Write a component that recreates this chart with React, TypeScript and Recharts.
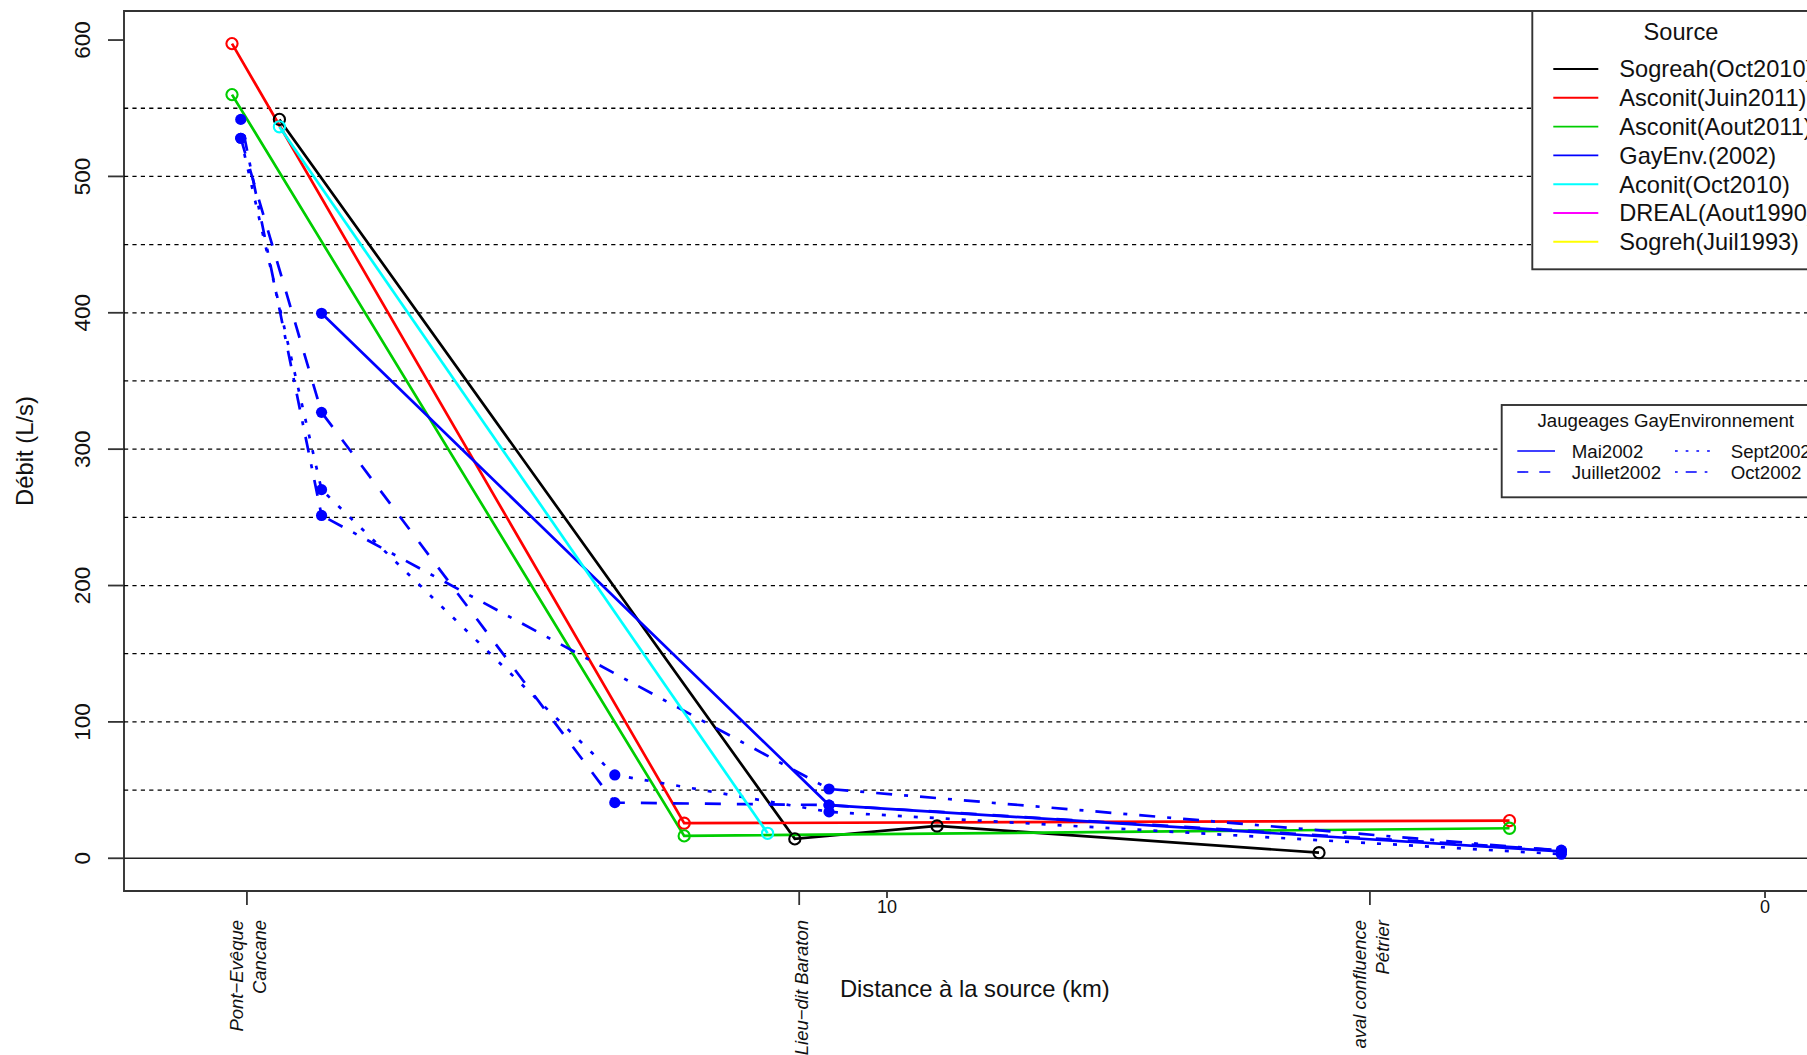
import React from 'react';
import { LineChart, Line, XAxis, YAxis, ReferenceLine, ReferenceArea, Legend, Label } from 'recharts';

// ---------------- data (distance to source in km, discharge in L/s) ----------------
const sogreahOct2010X = [16.92, 11.05, 9.43, 5.08];
const sogreahOct2010Y = [541.8, 14.2, 23.7, 4.1];

const asconitJuin2011X = [17.46, 12.31, 2.91];
const asconitJuin2011Y = [597.4, 25.7, 27.6];

const asconitAout2011X = [17.46, 12.31, 2.91];
const asconitAout2011Y = [560, 16.4, 22.0];

const aconitOct2010X = [16.92, 11.36];
const aconitOct2010Y = [536.4, 18.3];

const gayMai2002X = [16.44, 10.66, 2.32];
const gayMai2002Y = [399.6, 39, 5];

const gayJuillet2002X = [17.36, 16.44, 13.1, 10.66, 2.32];
const gayJuillet2002Y = [528, 327, 40.8, 39, 6];

const gaySept2002X = [17.36, 16.44, 13.1, 10.66, 2.32];
const gaySept2002Y = [528, 270.3, 61.1, 34, 3];

const gayOct2002X = [17.36, 16.44, 10.66, 2.32];
const gayOct2002Y = [541.8, 251.4, 50.8, 5.5];

// ---------------- ticks / labels ----------------
const yTicks = [0, 100, 200, 300, 400, 500, 600];
const gridValues = [50, 100, 150, 200, 250, 300, 350, 400, 450, 500, 550];
const kmTicks = [10, 0];
const stationKm = [17.29, 11.0, 4.5];
const stationLabels = [['Pont−Evêque', 'Cancane'], ['Lieu−dit Baraton'], ['aval confluence', 'Pétrier']];

const sourceLabels = ['Sogreah(Oct2010)', 'Asconit(Juin2011)', 'Asconit(Aout2011)', 'GayEnv.(2002)', 'Aconit(Oct2010)', 'DREAL(Aout1990)', 'Sogreh(Juil1993)'];
const sourceColors = ['#000000', '#FF0000', '#00CD00', '#0000FF', '#00FFFF', '#FF00FF', '#FFFF00'];
const gayLabels = ['Mai2002', 'Sept2002', 'Juillet2002', 'Oct2002'];
const gayLegendDash = ['', '2.7 8', '11 11', '2.7 8 11 8'];

const xTitle = 'Distance à la source (km)';
const yTitle = 'Débit (L/s)';

// ---------------- layout ----------------
const FONT = '"Liberation Sans", Arial, Helvetica, sans-serif';
const W = 1830;
const H = 1055;
const VIEW_W = 1807;
const X_DOMAIN: [number, number] = [-0.69, 18.69];
const Y_DOMAIN: [number, number] = [-24, 621.3];
const AXIS_COL = '#333333';
const TXT = '#111111';

const pts = (xs: number[], ys: number[]) => xs.map((x, i) => ({ x, v: ys[i] }));

const openDot = (c: string) => ({ r: 5.6, fill: 'none', stroke: c, strokeWidth: 2.1, strokeDasharray: '' });
const blueDot = { r: 5.6, fill: '#0000FF', stroke: 'none', strokeDasharray: '' };

const series = [
  { name: sourceLabels[0], data: pts(sogreahOct2010X, sogreahOct2010Y), color: sourceColors[0], dash: '', dot: openDot(sourceColors[0]) },
  { name: sourceLabels[1], data: pts(asconitJuin2011X, asconitJuin2011Y), color: sourceColors[1], dash: '', dot: openDot(sourceColors[1]) },
  { name: sourceLabels[2], data: pts(asconitAout2011X, asconitAout2011Y), color: sourceColors[2], dash: '', dot: openDot(sourceColors[2]) },
  { name: 'Mai2002', data: pts(gayMai2002X, gayMai2002Y), color: sourceColors[3], dash: '', dot: blueDot },
  { name: 'Juillet2002', data: pts(gayJuillet2002X, gayJuillet2002Y), color: sourceColors[3], dash: '16 16', dot: blueDot },
  { name: 'Sept2002', data: pts(gaySept2002X, gaySept2002Y), color: sourceColors[3], dash: '4 12', dot: blueDot },
  { name: 'Oct2002', data: pts(gayOct2002X, gayOct2002Y), color: sourceColors[3], dash: '4 12 16 12', dot: blueDot },
  { name: sourceLabels[4], data: pts(aconitOct2010X, aconitOct2010Y), color: sourceColors[4], dash: '', dot: openDot(sourceColors[4]) },
];

const XTick = (props: any) => {
  const { x, y, payload } = props;
  const v = payload.value;
  const si = stationKm.indexOf(v);
  if (si >= 0) {
    const lines = stationLabels[si];
    const offs = lines.length === 1 ? [2.5] : [-10, 12.5];
    return (
      <g>
        <line x1={x} x2={x} y1={y} y2={y + 14} stroke={AXIS_COL} strokeWidth={1.8} />
        {lines.map((t, i) => (
          <text
            key={i}
            transform={`translate(${x + offs[i]},${y + 29}) rotate(-90)`}
            textAnchor="end"
            dy="0.35em"
            fontStyle="italic"
            fontSize={18.5}
            fontFamily={FONT}
            fill={TXT}
          >
            {t}
          </text>
        ))}
      </g>
    );
  }
  return (
    <g>
      <line x1={x} x2={x} y1={y} y2={y + 7} stroke={AXIS_COL} strokeWidth={1.8} />
      <text x={x} y={y + 15.7} dy="0.35em" textAnchor="middle" fontSize={18} fontFamily={FONT} fill={TXT}>
        {v}
      </text>
    </g>
  );
};

const YTick = (props: any) => {
  const { x, y, payload } = props;
  return (
    <text
      transform={`translate(${x - 26},${y}) rotate(-90)`}
      textAnchor="middle"
      dy="0.35em"
      fontSize={22.5}
      fontFamily={FONT}
      fill={TXT}
    >
      {payload.value}
    </text>
  );
};

const XTitle = (props: any) => {
  const vb = props.viewBox || { x: 0, y: 0, width: 0 };
  return (
    <text x={vb.x + vb.width / 2} y={vb.y + 98} dy="0.35em" textAnchor="middle" fontSize={23.8} fontFamily={FONT} fill={TXT}>
      {xTitle}
    </text>
  );
};

const YTitle = (props: any) => {
  const vb = props.viewBox || { x: 0, y: 0, height: 0 };
  return (
    <text
      transform={`translate(${vb.x + 25},${vb.y + vb.height / 2}) rotate(-90)`}
      dy="0.35em"
      textAnchor="middle"
      fontSize={23.8}
      fontFamily={FONT}
      fill={TXT}
    >
      {yTitle}
    </text>
  );
};

const LegendBoxes = () => {
  const right = 1825.6;
  const l1x = 1532.3;
  const l1y = 11;
  const l2x = 1501.7;
  const l2y = 405;
  return (
    <svg width={W} height={H} style={{ position: 'absolute', left: 0, top: 0, pointerEvents: 'none' }}>
      <rect x={l1x} y={l1y} width={right - l1x} height={258.3} fill="#ffffff" stroke={AXIS_COL} strokeWidth={1.9} />
      <text x={1681} y={40} textAnchor="middle" fontSize={23.6} fontFamily={FONT} fill={TXT}>Source</text>
      {sourceLabels.map((s, i) => {
        const cy = 69 + i * 28.8;
        return (
          <g key={s}>
            <line x1={1553.3} x2={1598.3} y1={cy} y2={cy} stroke={sourceColors[i]} strokeWidth={1.9} />
            <text x={1619.3} y={cy + 8.4} fontSize={23.6} fontFamily={FONT} fill={TXT}>{s}</text>
          </g>
        );
      })}
      <rect x={l2x} y={l2y} width={right - l2x} height={92.3} fill="#ffffff" stroke={AXIS_COL} strokeWidth={1.9} />
      <text x={1665.7} y={427.2} textAnchor="middle" fontSize={18.7} fontFamily={FONT} fill={TXT}>Jaugeages GayEnvironnement</text>
      {gayLabels.map((s, i) => {
        const col = i % 2;
        const row = Math.floor(i / 2);
        const cy = 451 + row * 21;
        const lx1 = col === 0 ? 1517.3 : 1675;
        const lx2 = col === 0 ? 1555 : 1710;
        const tx = col === 0 ? 1571.7 : 1730.7;
        return (
          <g key={s}>
            <line x1={lx1} x2={lx2} y1={cy} y2={cy} stroke="#0000FF" strokeWidth={1.6} strokeDasharray={gayLegendDash[i] || undefined} />
            <text x={tx} y={cy + 6.6} fontSize={18.7} fontFamily={FONT} fill={TXT}>{s}</text>
          </g>
        );
      })}
    </svg>
  );
};

export default function App() {
  return (
    <div style={{ position: 'absolute', left: 0, top: 0, width: VIEW_W, height: H, overflow: 'hidden', background: '#ffffff' }}>
      <LineChart width={W} height={H} margin={{ top: 11, right: W - 1825.6, bottom: 0, left: 0 }}>
        <XAxis
          dataKey="x"
          type="number"
          domain={X_DOMAIN}
          allowDataOverflow
          reversed
          ticks={[...stationKm, ...kmTicks]}
          interval={0}
          height={164}
          tickSize={0}
          tickMargin={0}
          tickLine={false}
          axisLine={false}
          tick={XTick}
        >
          <Label content={XTitle} />
        </XAxis>
        <YAxis
          type="number"
          domain={Y_DOMAIN}
          allowDataOverflow
          ticks={yTicks}
          interval={0}
          width={124}
          tickSize={16}
          tickMargin={0}
          tickLine={{ stroke: AXIS_COL, strokeWidth: 1.8 }}
          axisLine={false}
          tick={YTick}
        >
          <Label content={YTitle} />
        </YAxis>
        {gridValues.map((g) => (
          <ReferenceLine key={g} y={g} stroke="#000000" strokeWidth={1.3} strokeDasharray="4.2 4.2" />
        ))}
        <ReferenceLine y={0} stroke="#222222" strokeWidth={1.5} />
        <ReferenceArea
          x1={X_DOMAIN[0]}
          x2={X_DOMAIN[1]}
          y1={Y_DOMAIN[0]}
          y2={Y_DOMAIN[1]}
          fill="none"
          fillOpacity={0}
          stroke={AXIS_COL}
          strokeWidth={1.9}
        />
        {series.map((s) => (
          <Line
            key={s.name}
            name={s.name}
            data={s.data}
            dataKey="v"
            type="linear"
            stroke={s.color}
            strokeWidth={2.7}
            strokeDasharray={s.dash || undefined}
            dot={s.dot}
            activeDot={false}
            isAnimationActive={false}
            legendType="none"
          />
        ))}
        <Legend
          verticalAlign="middle"
          align="center"
          layout="horizontal"
          wrapperStyle={{ position: 'absolute', left: 0, top: 0, width: W, height: H, pointerEvents: 'none' }}
          content={() => <LegendBoxes />}
        />
      </LineChart>
    </div>
  );
}
